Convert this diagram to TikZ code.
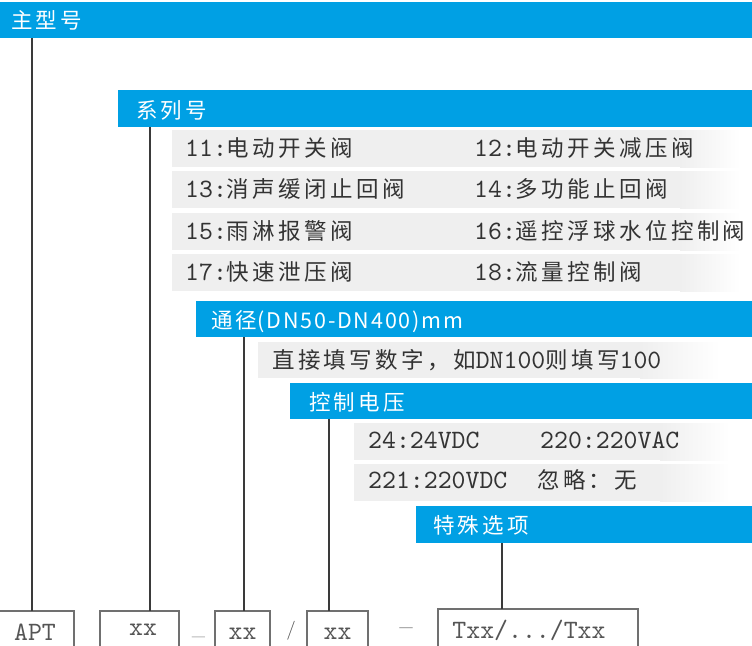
\documentclass[tikz,border=0pt]{standalone}
\usepackage{fontspec}
\newfontfamily\zh[LetterSpace=15]{Noto Sans CJK SC}
\newfontfamily\zhn[LetterSpace=8.5]{Noto Sans CJK SC}
\newfontfamily\lat{lmmono10-regular.otf}
\newfontfamily\botS{lmroman10-regular.otf}
\newfontfamily\botW[FakeStretch=1.4]{lmroman10-regular.otf}
\newcommand{\latx}[1]{{\lat\fontsize{26.5pt}{28pt}\selectfont#1}}
\newcommand{\zhx}[1]{{\zh#1}}
\definecolor{barblue}{HTML}{00A0E4}
\definecolor{rowgray}{HTML}{EFEFEF}
\definecolor{txtgray}{HTML}{333333}
\definecolor{linegray}{HTML}{3A3A3A}
\definecolor{boxgray}{HTML}{707070}
\definecolor{bottxt}{HTML}{555555}
\tikzset{
  bar/.style={fill=barblue, draw=none, inner sep=0pt, outer sep=0pt, anchor=north west},
  bartext/.style={text=white, font=\zh\fontsize{21.5pt}{25pt}\selectfont, inner sep=0pt, anchor=base west},
  bartextmix/.style={text=white, font=\fontsize{21.5pt}{25pt}\selectfont, inner sep=0pt, anchor=base west},
  rowtext/.style={text=txtgray, font=\fontsize{22.5pt}{26pt}\selectfont, inner sep=0pt, anchor=base west},
  conn/.style={draw=linegray, line width=1.2pt},
  outbox/.style={draw=boxgray, line width=1.3pt, inner sep=0pt, outer sep=0pt, anchor=north west, minimum height=50pt},
  bottext/.style={text=bottxt, inner sep=0pt, anchor=base, font=\lat\fontsize{26.5pt}{30pt}\selectfont},
  rowfade/.style={left color=rowgray, right color=white, draw=none},
}
\begin{document}
\begin{tikzpicture}[x=1pt,y=-1pt]
\useasboundingbox (0,0) rectangle (752,645);
% blue bars
\node[bar, minimum width=752pt, minimum height=36pt] (zx) at (0,2) {};
\node[bar, minimum width=634pt, minimum height=37pt] (xl) at (118,90) {};
\node[bar, minimum width=556pt, minimum height=36pt] (tj) at (196,301) {};
\node[bar, minimum width=462pt, minimum height=36pt] (dy) at (290,383) {};
\node[bar, minimum width=336pt, minimum height=37pt] (ts) at (416,506) {};
% gray rows
\fill[rowgray] (172,130) rectangle (680,167);
\shade[rowfade] (680,130) rectangle (740,167);
\fill[rowgray] (172,171) rectangle (680,208);
\shade[rowfade] (680,171) rectangle (740,208);
\fill[rowgray] (172,213) rectangle (680,250);
\shade[rowfade] (680,213) rectangle (740,250);
\fill[rowgray] (172,254) rectangle (680,291);
\shade[rowfade] (680,254) rectangle (740,291);
\fill[rowgray] (258,342) rectangle (640,378);
\shade[rowfade] (640,342) rectangle (720,378);
\fill[rowgray] (354,423) rectangle (660,460);
\shade[rowfade] (660,423) rectangle (730,460);
\fill[rowgray] (354,464) rectangle (660,501);
\shade[rowfade] (660,464) rectangle (730,501);
% bar texts
\node[bartext] (tzx) at (11,28.5) {主型号};
\node[bartext] (txl) at (136,118) {系列号};
\node[bartextmix] (ttj) at (211,328) {\zhx{通径}{\zhn(DN50-DN400)mm}};
\node[bartext] (tdy) at (309,410) {控制电压};
\node[bartext] (tts) at (433,533.5) {特殊选项};
% series rows
\node[rowtext] (r11) at (185,156) {\latx{11:}\zhx{电动开关阀}};
\node[rowtext] (r12) at (474,156) {\latx{12:}\zhx{电动开关减压阀}};
\node[rowtext] (r13) at (185,197) {\latx{13:}\zhx{消声缓闭止回阀}};
\node[rowtext] (r14) at (474,197) {\latx{14:}\zhx{多功能止回阀}};
\node[rowtext] (r15) at (185,239) {\latx{15:}\zhx{雨淋报警阀}};
\node[rowtext] (r16) at (474,239) {\latx{16:}\zhx{遥控浮球水位控制阀}};
\node[rowtext] (r17) at (185,280) {\latx{17:}\zhx{快速泄压阀}};
\node[rowtext] (r18) at (474,280) {\latx{18:}\zhx{流量控制阀}};
% diameter row
\node[rowtext] (rdn) at (272,368) {\zhx{直接填写数字，如}\latx{DN100}\zhx{则填写}\latx{100}};
% voltage rows
\node[rowtext] (v1) at (368,448) {\latx{24:24VDC}};
\node[rowtext] (v2) at (540,448) {\latx{220:220VAC}};
\node[rowtext] (v3) at (368,488) {\latx{221:220VDC}};
\node[rowtext] (v4) at (537,488) {\zhx{忽略：无}};
% bottom boxes
\node[outbox, minimum width=84pt] (apt) at (-10,611) {};
\node[outbox, minimum width=79pt] (b1) at (100,611) {};
\node[outbox, minimum width=55pt] (b2) at (215,611) {};
\node[outbox, minimum width=61pt] (b3) at (307,611) {};
\node[outbox, minimum width=200pt] (b4) at (438,609) {};
\node[bottext] (tapt) at (35,640) {APT};
\node[bottext] (tb1) at (143,635) {xx};
\node[bottext] (tb2) at (242.5,639) {xx};
\node[bottext] (tb3) at (337.5,639) {xx};
\node[bottext] (tb4) at (529,638) {Txx/.../Txx};
\node[bottext, font=\botW\fontsize{19pt}{22pt}\selectfont] (d1) at (198.5,642) {–};
\node[bottext, font=\botS\fontsize{27pt}{30pt}\selectfont] (d2) at (406,635) {–};
\node[bottext, font=\botS\fontsize{19pt}{22pt}\selectfont] (sl) at (291,635.5) {/};
% connectors
\coordinate (s1) at (32,38);
\coordinate (s2) at (150,127);
\coordinate (s3) at (244,337);
\coordinate (s4) at (329,419);
\coordinate (s5) at (502,543);
\draw[conn] (s1) -- (s1 |- apt.north);
\draw[conn] (s2) -- (s2 |- b1.north);
\draw[conn] (s3) -- (s3 |- b2.north);
\draw[conn] (s4) -- (s4 |- b3.north);
\draw[conn] (s5) -- (s5 |- b4.north);
\end{tikzpicture}
\end{document}
